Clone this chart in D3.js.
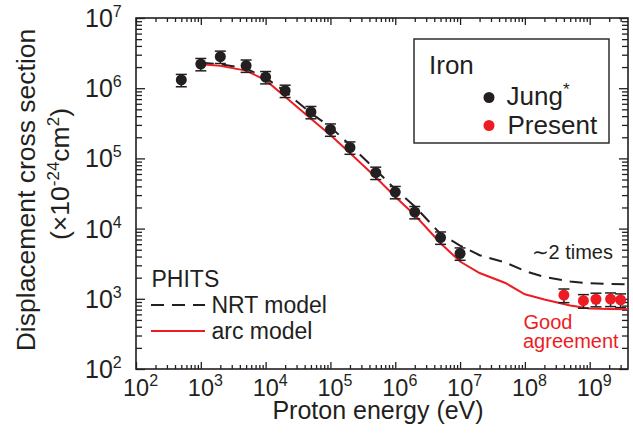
<!DOCTYPE html>
<html>
<head>
<meta charset="UTF-8">
<title>Iron displacement cross section</title>
<script src="https://cdn.jsdelivr.net/npm/d3@7"></script>
<style>
  body { margin: 0; background: #fff; }
  text { font-family: "Liberation Sans", Arial, sans-serif; fill: #231f20; }
</style>
</head>
<body>
<script>
// data
var jungE = [5e2, 1e3, 2e3, 5e3, 1e4, 2e4, 5e4, 1e5, 2e5, 5e5, 1e6, 2e6, 5e6, 1e7];
var jungSigma = [1.31e6, 2.21e6, 2.81e6, 2.1e6, 1.44e6, 9.2e5, 4.58e5, 2.58e5, 1.43e5, 6.25e4, 3.32e4, 1.72e4, 7.46e3, 4.42e3];
var jungErr = [0.2, 0.2, 0.2, 0.2, 0.2, 0.2, 0.2, 0.2, 0.2, 0.2, 0.2, 0.2, 0.2, 0.2];

var presentE = [4e8, 8e8, 1.25e9, 2.1e9, 3e9];
var presentSigma = [1130, 940, 985, 993, 962];
var presentErr = [0.22, 0.22, 0.22, 0.22, 0.22];

var modelE = [1e3, 2e3, 5e3, 1e4, 2e4, 5e4, 1e5, 2e5, 5e5, 1e6, 2e6, 5e6, 1e7, 2e7, 5e7, 1e8, 2e8, 5e8, 1e9, 2e9, 3.9e9];
var nrtSigma = [2.3e6, 2.2e6, 1.91e6, 1.4e6, 8.97e5, 4.4e5, 2.8e5, 1.55e5, 6.9e4, 3.64e4, 2.07e4, 8.4e3, 5.74e3, 4.18e3, 3.29e3, 2.49e3, 2.04e3, 1.77e3, 1.66e3, 1.63e3, 1.6e3];
var arcSigma = [2.2e6, 2.08e6, 1.78e6, 1.3e6, 7.57e5, 3.66e5, 2.15e5, 1.19e5, 5.4e4, 2.85e4, 1.56e4, 6.2e3, 3.4e3, 2.33e3, 1.68e3, 1.16e3, 980, 803, 728, 716, 708];

var xExps = [2, 3, 4, 5, 6, 7, 8, 9];
var yExps = [2, 3, 4, 5, 6, 7];

var red = "#ed1c24", ink = "#231f20";
var width = 633, height = 446;
var L = 136, R = 628, T = 18, B = 369;

var svg = d3.select("body").append("svg")
    .attr("width", width)
    .attr("height", height);

var x = d3.scaleLog().domain([1e2, 3.9e9]).range([L, R]);
var y = d3.scaleLog().domain([1e2, 1e7]).range([B, T]);

// minor ticks
var xMinor = [], yMinor = [];
xExps.forEach(function(e) {
  for (var k = 2; k <= 9; k++) if (k * Math.pow(10, e) <= 3.9e9) xMinor.push(k * Math.pow(10, e));
});
yExps.slice(0, -1).forEach(function(e) {
  for (var k = 2; k <= 9; k++) yMinor.push(k * Math.pow(10, e));
});
var xMajor = xExps.map(function(e) { return Math.pow(10, e); });
var yMajor = yExps.map(function(e) { return Math.pow(10, e); });

function axisG(axis, tx, ty) {
  var g = svg.append("g").attr("transform", "translate(" + tx + "," + ty + ")").call(axis);
  g.select(".domain").remove();
  g.selectAll("line").attr("stroke", ink).attr("stroke-width", 1.3);
  return g;
}
axisG(d3.axisBottom(x).tickValues(xMinor).tickSize(-4).tickFormat(""), 0, B);
axisG(d3.axisBottom(x).tickValues(xMajor).tickSize(-7).tickFormat(""), 0, B);
axisG(d3.axisTop(x).tickValues(xMinor).tickSize(-4).tickFormat(""), 0, T);
axisG(d3.axisTop(x).tickValues(xMajor).tickSize(-7).tickFormat(""), 0, T);
axisG(d3.axisLeft(y).tickValues(yMinor).tickSize(-6).tickFormat(""), L, 0);
axisG(d3.axisLeft(y).tickValues(yMajor).tickSize(-9).tickFormat(""), L, 0);
axisG(d3.axisRight(y).tickValues(yMinor).tickSize(-6).tickFormat(""), R, 0);
axisG(d3.axisRight(y).tickValues(yMajor).tickSize(-9).tickFormat(""), R, 0);

svg.append("rect")
    .attr("x", L).attr("y", T)
    .attr("width", R - L).attr("height", B - T)
    .attr("fill", "none").attr("stroke", ink).attr("stroke-width", 1.6);

// tick labels with superscripts
xExps.forEach(function(e) {
  var t = svg.append("text")
      .attr("x", x(Math.pow(10, e)) - 13).attr("y", 395.5)
      .attr("font-size", 23.5);
  t.append("tspan").text("10");
  t.append("tspan").attr("dy", -10).attr("font-size", 16).text(e);
});
yExps.forEach(function(e) {
  var t = svg.append("text")
      .attr("x", 85).attr("y", y(Math.pow(10, e)) + 9)
      .attr("font-size", 25);
  t.append("tspan").text("10");
  t.append("tspan").attr("dy", -10).attr("font-size", 16).text(e);
});

// axis titles
svg.append("text")
    .attr("x", (L + R) / 2 - 4).attr("y", 419)
    .attr("text-anchor", "middle").attr("font-size", 25)
    .text("Proton energy (eV)");

svg.append("text")
    .attr("transform", "translate(35,190) rotate(-90)")
    .attr("text-anchor", "middle").attr("font-size", 26.5)
    .text("Displacement cross section");

var yt = svg.append("text")
    .attr("transform", "translate(69,174) rotate(-90)")
    .attr("text-anchor", "middle").attr("font-size", 26.5);
yt.append("tspan").text("(\u00d710");
yt.append("tspan").attr("dy", -10).attr("font-size", 17).text("-24");
yt.append("tspan").attr("dy", 10).text("cm");
yt.append("tspan").attr("dy", -10).attr("font-size", 17).text("2");
yt.append("tspan").attr("dy", 10).text(")");

// model curves
var plot = svg.append("g");
svg.append("clipPath").attr("id", "clip")
  .append("rect").attr("x", L).attr("y", T).attr("width", R - L).attr("height", B - T);
plot.attr("clip-path", "url(#clip)");

var line = d3.line()
    .x(function(d) { return x(d[0]); })
    .y(function(d) { return y(d[1]); });

plot.append("path")
    .datum(d3.zip(modelE, nrtSigma))
    .attr("d", line)
    .attr("fill", "none").attr("stroke", ink)
    .attr("stroke-width", 2).attr("stroke-dasharray", "13,8");

plot.append("path")
    .datum(d3.zip(modelE, arcSigma))
    .attr("d", line)
    .attr("fill", "none").attr("stroke", red).attr("stroke-width", 2);

// measured points with error bars
function drawPoints(E, S, err, fill) {
  var pts = d3.zip(E, S, err);
  var g = plot.append("g");
  var cap = 5.5;
  pts.forEach(function(p) {
    var cx = x(p[0]), top = y(p[1] * (1 + p[2])), bot = y(p[1] * (1 - p[2]));
    g.append("line").attr("x1", cx).attr("x2", cx).attr("y1", top).attr("y2", bot);
    g.append("line").attr("x1", cx - cap).attr("x2", cx + cap).attr("y1", top).attr("y2", top);
    g.append("line").attr("x1", cx - cap).attr("x2", cx + cap).attr("y1", bot).attr("y2", bot);
  });
  g.selectAll("line").attr("stroke", ink).attr("stroke-width", 1.5);
  g.selectAll("circle").data(pts).enter().append("circle")
      .attr("cx", function(d) { return x(d[0]); })
      .attr("cy", function(d) { return y(d[1]); })
      .attr("r", 5.5).attr("fill", fill);
}
drawPoints(jungE, jungSigma, jungErr, ink);
drawPoints(presentE, presentSigma, presentErr, red);

// legend box
svg.append("rect")
    .attr("x", 414).attr("y", 39).attr("width", 195).attr("height", 104)
    .attr("fill", "#fff").attr("stroke", ink).attr("stroke-width", 1.4);
svg.append("text").attr("x", 429).attr("y", 74).attr("font-size", 26).text("Iron");
svg.append("circle").attr("cx", 489).attr("cy", 97.5).attr("r", 5.5).attr("fill", ink);
var jt = svg.append("text").attr("x", 506.5).attr("y", 105).attr("font-size", 26);
jt.append("tspan").text("Jung");
jt.append("tspan").attr("dy", -10).attr("font-size", 17).text("*");
svg.append("circle").attr("cx", 489).attr("cy", 125.5).attr("r", 5.5).attr("fill", red);
svg.append("text").attr("x", 507.5).attr("y", 134).attr("font-size", 26).text("Present");

// PHITS legend
svg.append("text").attr("x", 151.5).attr("y", 286.5).attr("font-size", 23).text("PHITS");
svg.append("line").attr("x1", 151).attr("x2", 205).attr("y1", 305).attr("y2", 305)
    .attr("stroke", ink).attr("stroke-width", 2).attr("stroke-dasharray", "13,8");
svg.append("text").attr("x", 211.5).attr("y", 313.3).attr("font-size", 23).text("NRT model");
svg.append("line").attr("x1", 151).attr("x2", 205).attr("y1", 331).attr("y2", 331)
    .attr("stroke", red).attr("stroke-width", 2);
svg.append("text").attr("x", 211.5).attr("y", 339.3).attr("font-size", 23).text("arc model");

// annotations
svg.append("text").attr("x", 531.5).attr("y", 259.3).attr("font-size", 20).text("\u223c2 times");
svg.append("text").attr("x", 523.5).attr("y", 329.3).attr("font-size", 20).style("fill", red).text("Good");
svg.append("text").attr("x", 523).attr("y", 348.3).attr("font-size", 20).style("fill", red).text("agreement");
</script>
</body>
</html>
